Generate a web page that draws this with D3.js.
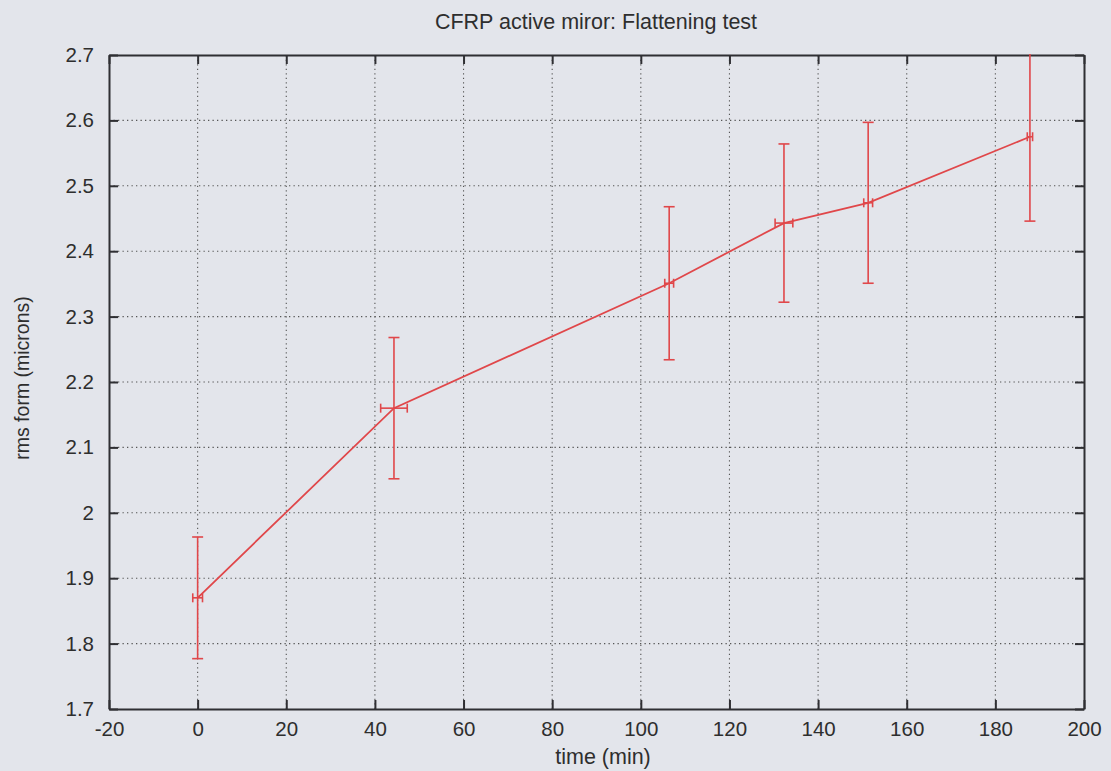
<!DOCTYPE html>
<html>
<head>
<meta charset="utf-8">
<script src="https://cdn.jsdelivr.net/npm/d3@7"></script>
<style>
  html, body { margin: 0; padding: 0; background: #e3e5eb; }
  svg { display: block; }
  text { font-family: "Liberation Sans", Arial, sans-serif; fill: #2e2e2e; }
</style>
</head>
<body>
<svg id="chart" width="1111" height="771"></svg>
<script>
// Flattening test measurements: rms surface form vs. elapsed time
const timeMin   = [0, 44.3, 106.4, 132.3, 151.3, 187.8];
const timeErr   = [1.1, 3.0, 1.0, 2.0, 1.0, 0.6];
const rmsForm   = [1.870, 2.160, 2.351, 2.443, 2.474, 2.575];
const rmsErr    = [0.093, 0.108, 0.117, 0.121, 0.123, 0.129];
const xTicks    = [-20, 0, 20, 40, 60, 80, 100, 120, 140, 160, 180, 200];
const yTicks    = [1.7, 1.8, 1.9, 2.0, 2.1, 2.2, 2.3, 2.4, 2.5, 2.6, 2.7];

const svg = d3.select("#chart");
const W = 1111, H = 771;
const m = { left: 109, right: W - 1084, top: 55, bottom: H - 709 };

const x = d3.scaleLinear().domain([-20, 200]).range([m.left, W - m.right]);
const y = d3.scaleLinear().domain([1.7, 2.7]).range([H - m.bottom, m.top]);

const ink = "#2f2f33";
const red = "#e0474a";

// dotted grid
const grid = svg.append("g").attr("stroke", "#555").attr("stroke-width", 1.1)
  .attr("stroke-dasharray", "1.3,3.2");
grid.selectAll(".gx").data(xTicks.slice(1, -1)).join("line")
  .attr("x1", d => x(d)).attr("x2", d => x(d))
  .attr("y1", y(1.7)).attr("y2", y(2.7));
grid.selectAll(".gy").data(yTicks.slice(1, -1)).join("line")
  .attr("x1", x(-20)).attr("x2", x(200))
  .attr("y1", d => y(d)).attr("y2", d => y(d));

// axes with inward, mirrored ticks
const tickLen = 9;
const fmtX = d => String(d);
const fmtY = d => d3.format(".1f")(d).replace(/\.0$/, "");
const gBottom = svg.append("g").attr("transform", `translate(0,${y(1.7)})`)
  .call(d3.axisBottom(x).tickValues(xTicks).tickFormat(fmtX).tickSizeInner(-tickLen).tickSizeOuter(0).tickPadding(12));
const gTop = svg.append("g").attr("transform", `translate(0,${y(2.7)})`)
  .call(d3.axisTop(x).tickValues(xTicks).tickSizeInner(-tickLen).tickSizeOuter(0).tickFormat(""));
const gLeft = svg.append("g").attr("transform", `translate(${x(-20)},0)`)
  .call(d3.axisLeft(y).tickValues(yTicks).tickFormat(fmtY).tickSizeInner(-tickLen).tickSizeOuter(0).tickPadding(15));
const gRight = svg.append("g").attr("transform", `translate(${x(200)},0)`)
  .call(d3.axisRight(y).tickValues(yTicks).tickSizeInner(-tickLen).tickSizeOuter(0).tickFormat(""));

[gBottom, gTop, gLeft, gRight].forEach(g => {
  g.select(".domain").attr("stroke", ink).attr("stroke-width", 2);
  g.selectAll(".tick line").attr("stroke", ink).attr("stroke-width", 2);
  g.selectAll(".tick text").style("font-size", "20.5px").attr("fill", "#2e2e2e");
});
gBottom.selectAll(".tick text").attr("dy", "0.71em");

// measurement curve
const pts = timeMin.map((t, i) => ({ t, v: rmsForm[i], et: timeErr[i], ev: rmsErr[i] }));
svg.append("path").datum(pts)
  .attr("fill", "none").attr("stroke", red).attr("stroke-width", 1.8)
  .attr("d", d3.line().x(d => x(d.t)).y(d => y(d.v)));

// x-y error bars, clipped to the frame
svg.append("clipPath").attr("id", "frame").append("rect")
  .attr("x", x(-20)).attr("y", y(2.7) - 1).attr("width", x(200) - x(-20)).attr("height", y(1.7) - y(2.7) + 1);
const eb = svg.append("g").attr("clip-path", "url(#frame)")
  .attr("stroke", red).attr("stroke-width", 1.6).attr("fill", "none");
const capW = 5.5, capH = 4.5;
const bar = eb.selectAll("g").data(pts).join("g");
bar.append("line").attr("x1", d => x(d.t)).attr("x2", d => x(d.t))
  .attr("y1", d => y(d.v - d.ev)).attr("y2", d => y(d.v + d.ev));
bar.append("line").attr("x1", d => x(d.t) - capW).attr("x2", d => x(d.t) + capW)
  .attr("y1", d => y(d.v - d.ev)).attr("y2", d => y(d.v - d.ev));
bar.append("line").attr("x1", d => x(d.t) - capW).attr("x2", d => x(d.t) + capW)
  .attr("y1", d => y(d.v + d.ev)).attr("y2", d => y(d.v + d.ev));
bar.append("line").attr("x1", d => x(d.t - d.et)).attr("x2", d => x(d.t + d.et))
  .attr("y1", d => y(d.v)).attr("y2", d => y(d.v));
bar.append("line").attr("x1", d => x(d.t - d.et)).attr("x2", d => x(d.t - d.et))
  .attr("y1", d => y(d.v) - capH).attr("y2", d => y(d.v) + capH);
bar.append("line").attr("x1", d => x(d.t + d.et)).attr("x2", d => x(d.t + d.et))
  .attr("y1", d => y(d.v) - capH).attr("y2", d => y(d.v) + capH);

// titles
svg.append("text").attr("x", 596).attr("y", 29).attr("text-anchor", "middle")
  .style("font-size", "21.5px").text("CFRP active miror: Flattening test");
svg.append("text").attr("x", 603).attr("y", 764).attr("text-anchor", "middle")
  .style("font-size", "21.5px").text("time (min)");
svg.append("text").attr("transform", "translate(29,378) rotate(-90)").attr("text-anchor", "middle")
  .style("font-size", "19.5px").text("rms form (microns)");
</script>
</body>
</html>
